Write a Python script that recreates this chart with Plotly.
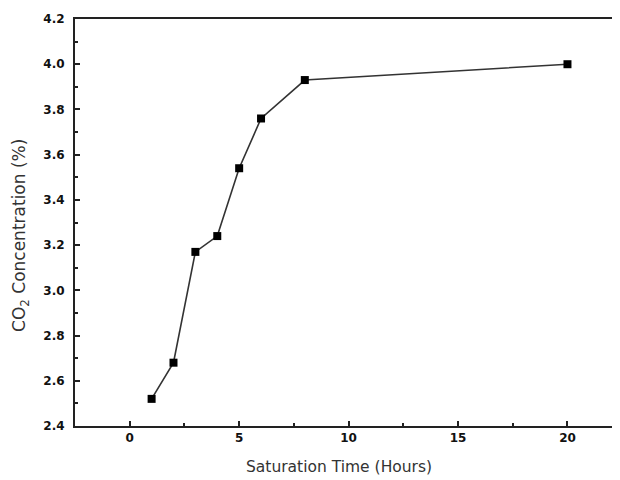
import plotly.graph_objects as go

saturation_time = [1, 2, 3, 4, 5, 6, 8, 20]
co2_concentration = [2.52, 2.68, 3.17, 3.24, 3.54, 3.76, 3.93, 4.00]
y_tick_vals = [2.4, 2.6, 2.8, 3.0, 3.2, 3.4, 3.6, 3.8, 4.0, 4.2]
x_tick_vals = [0, 5, 10, 15, 20]
x_title = "Saturation Time (Hours)"
y_title = "CO<sub>2</sub> Concentration (%)"

fig = go.Figure()
fig.add_trace(go.Scatter(
    x=saturation_time, y=co2_concentration,
    mode="lines+markers",
    line=dict(color="#333333", width=1.6),
    marker=dict(symbol="square", size=8, color="black"),
    showlegend=False,
))

# page body has an 8px default margin, so the figure is sized to end at 620x480
fig.update_layout(
    width=612, height=472,
    margin=dict(l=67, r=0, t=11, b=54, autoexpand=False),
    paper_bgcolor="white", plot_bgcolor="white",
    font=dict(family="DejaVu Sans", color="#222222"),
    annotations=[
        dict(text=x_title, xref="paper", yref="paper", x=0.484, y=-0.10,
             xanchor="center", yanchor="middle", showarrow=False,
             font=dict(family="DejaVu Sans", size=15.5, color="#333333")),
        dict(text=y_title, xref="paper", yref="paper", x=-0.099, y=0.467,
             xanchor="center", yanchor="middle", showarrow=False, textangle=-90,
             font=dict(family="DejaVu Sans", size=17, color="#333333")),
    ],
)
fig.update_xaxes(
    automargin=False,
    range=[-2.5, 22.4],
    tickvals=x_tick_vals,
    ticks="inside", ticklen=5, tickwidth=1.5, tickcolor="#222",
    minor=dict(tickvals=[2.5, 7.5, 12.5, 17.5], ticks="inside", ticklen=3, tickcolor="#222"),
    showline=True, linecolor="#222", linewidth=2, mirror=True,
    showgrid=False, zeroline=False,
    tickfont=dict(family="DejaVu Sans", size=12, weight="bold", color="#111"),
)
fig.update_yaxes(
    automargin=False,
    range=[2.4, 4.2],
    tickvals=y_tick_vals,
    tickformat=".1f",
    ticks="inside", ticklen=5, tickwidth=1.5, tickcolor="#222",
    minor=dict(dtick=0.1, ticks="inside", ticklen=3, tickcolor="#222"),
    showline=True, linecolor="#222", linewidth=2, mirror=False,
    showgrid=False, zeroline=False,
    tickfont=dict(family="DejaVu Sans", size=12, weight="bold", color="#111"),
    ticklabelstandoff=6,
)

fig.write_html("out.html")
